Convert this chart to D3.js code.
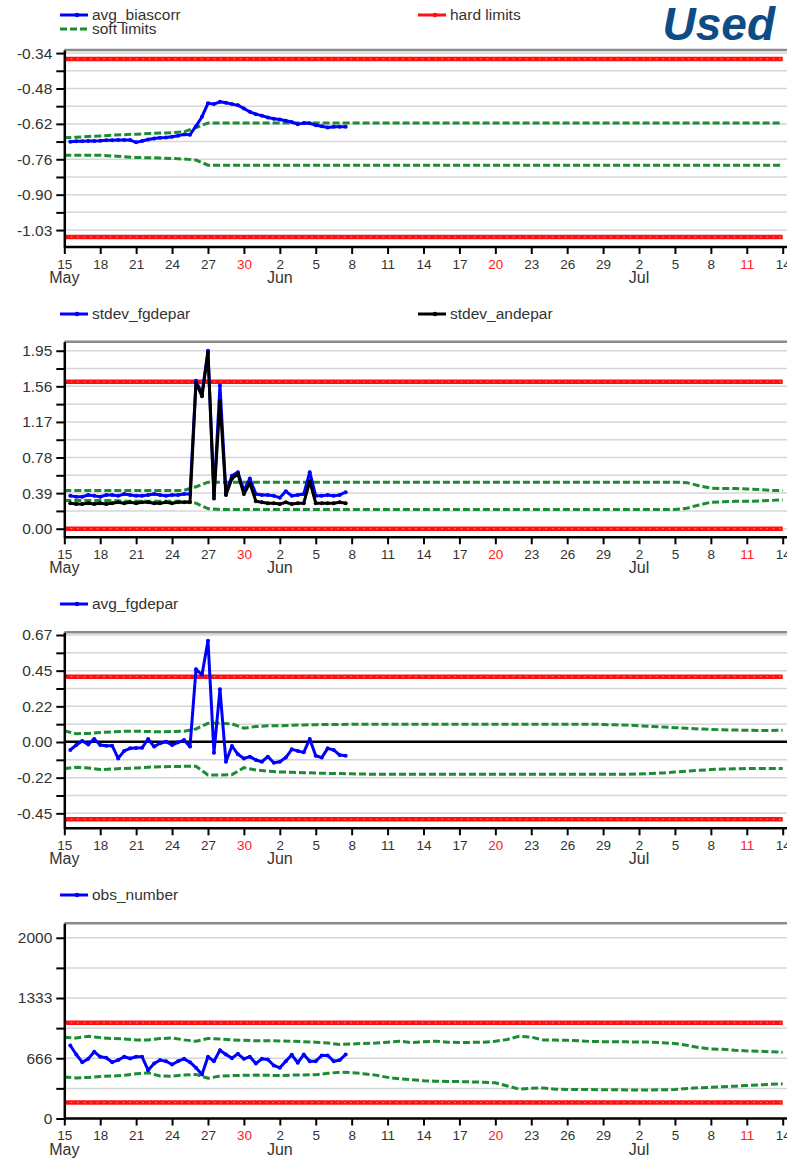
<!DOCTYPE html>
<html>
<head>
<meta charset="utf-8">
<script src="https://cdn.jsdelivr.net/npm/d3@7"></script>
<style>
    body { margin: 0; background: #fff; }
    svg { display: block; font-family: "Liberation Sans", Arial, sans-serif; }
</style>
</head>
<body>
<svg id="chart" width="787" height="1159"></svg>
<script>
// --- data -----------------------------------------------------------------

// monitored series: one value every 12 h, first one at 15 May 12 UTC
const seriesStart = new Date(Date.UTC(2021, 4, 15, 12))
// limits: one value a day, 15 May .. 14 Jul
const limitStart = new Date(Date.UTC(2021, 4, 15))
const limitEnd = new Date(Date.UTC(2021, 6, 14))

const avgBiascorr = [
    -0.686, -0.684, -0.684, -0.683, -0.683, -0.682, -0.680, -0.680, -0.679, -0.679,
    -0.679, -0.688, -0.683, -0.677, -0.673, -0.670, -0.669, -0.666, -0.662, -0.657,
    -0.658, -0.625, -0.588, -0.536, -0.539, -0.530, -0.534, -0.539, -0.543, -0.556,
    -0.569, -0.578, -0.584, -0.591, -0.596, -0.599, -0.604, -0.609, -0.617, -0.613,
    -0.614, -0.621, -0.625, -0.630, -0.627, -0.627, -0.627
]
const biasSoftUpper = [
    -0.670, -0.668, -0.665, -0.663, -0.660, -0.658, -0.656, -0.654, -0.652, -0.650,
    -0.647, -0.630, -0.613, -0.613, -0.613, -0.613, -0.613, -0.613, -0.613, -0.613,
    -0.613, -0.613, -0.613, -0.613, -0.613, -0.613, -0.613, -0.613, -0.613, -0.613,
    -0.613, -0.613, -0.613, -0.613, -0.613, -0.613, -0.613, -0.613, -0.613, -0.613,
    -0.613, -0.613, -0.613, -0.613, -0.613, -0.613, -0.613, -0.613, -0.613, -0.613,
    -0.613, -0.613, -0.613, -0.613, -0.613, -0.613, -0.613, -0.613, -0.613, -0.613,
    -0.613
]
const biasSoftLower = [
    -0.738, -0.738, -0.738, -0.738, -0.741, -0.744, -0.747, -0.748, -0.749, -0.751,
    -0.753, -0.757, -0.777, -0.777, -0.777, -0.777, -0.777, -0.777, -0.777, -0.777,
    -0.777, -0.777, -0.777, -0.777, -0.777, -0.777, -0.777, -0.777, -0.777, -0.777,
    -0.777, -0.777, -0.777, -0.777, -0.777, -0.777, -0.777, -0.777, -0.777, -0.777,
    -0.777, -0.777, -0.777, -0.777, -0.777, -0.777, -0.777, -0.777, -0.777, -0.777,
    -0.777, -0.777, -0.777, -0.777, -0.777, -0.777, -0.777, -0.777, -0.777, -0.777,
    -0.777
]
const biasHardLimits = [-0.363, -1.057]
const biasTickLabels = ['-1.03', '-0.90', '-0.76', '-0.62', '-0.48', '-0.34']

const stdevFgdepar = [
    0.36, 0.35, 0.35, 0.37, 0.36, 0.35, 0.37, 0.37, 0.36, 0.38,
    0.37, 0.36, 0.36, 0.37, 0.38, 0.37, 0.36, 0.37, 0.37, 0.38,
    0.38, 1.62, 1.48, 1.95, 0.36, 1.57, 0.39, 0.58, 0.62, 0.42,
    0.55, 0.38, 0.37, 0.37, 0.36, 0.34, 0.41, 0.36, 0.37, 0.38,
    0.62, 0.36, 0.36, 0.37, 0.36, 0.37, 0.40
]
const stdevAndepar = [
    0.28, 0.27, 0.27, 0.28, 0.27, 0.28, 0.27, 0.28, 0.29, 0.28,
    0.29, 0.28, 0.29, 0.29, 0.28, 0.28, 0.29, 0.28, 0.29, 0.29,
    0.29, 1.60, 1.45, 1.93, 0.33, 1.40, 0.37, 0.55, 0.60, 0.38,
    0.50, 0.30, 0.29, 0.28, 0.28, 0.27, 0.29, 0.27, 0.28, 0.28,
    0.52, 0.28, 0.28, 0.28, 0.28, 0.29, 0.28
]
const stdevSoftUpper = [
    0.42, 0.42, 0.42, 0.42, 0.42, 0.42, 0.42, 0.42, 0.42, 0.42,
    0.42, 0.46, 0.51, 0.51, 0.51, 0.51, 0.51, 0.51, 0.51, 0.51,
    0.51, 0.51, 0.51, 0.51, 0.51, 0.51, 0.51, 0.51, 0.51, 0.51,
    0.51, 0.51, 0.51, 0.51, 0.51, 0.51, 0.51, 0.51, 0.51, 0.51,
    0.51, 0.51, 0.51, 0.51, 0.51, 0.51, 0.51, 0.51, 0.51, 0.51,
    0.51, 0.51, 0.505, 0.47, 0.445, 0.44, 0.44, 0.435, 0.43, 0.42,
    0.42
]
const stdevSoftLower = [
    0.31, 0.31, 0.31, 0.31, 0.31, 0.30, 0.30, 0.30, 0.30, 0.30,
    0.30, 0.28, 0.22, 0.21, 0.21, 0.21, 0.21, 0.21, 0.21, 0.21,
    0.21, 0.21, 0.21, 0.21, 0.21, 0.21, 0.21, 0.21, 0.21, 0.21,
    0.21, 0.21, 0.21, 0.21, 0.21, 0.21, 0.21, 0.21, 0.21, 0.21,
    0.21, 0.21, 0.21, 0.21, 0.21, 0.21, 0.21, 0.21, 0.21, 0.21,
    0.21, 0.21, 0.225, 0.26, 0.29, 0.295, 0.30, 0.30, 0.305, 0.31,
    0.315
]
const stdevHardLimits = [1.61, 0.0]
const stdevTickLabels = ['0.00', '0.39', '0.78', '1.17', '1.56', '1.95']

const avgFgdepar = [
    -0.052, -0.021, 0.004, -0.017, 0.017, -0.021, -0.025, -0.025, -0.105, -0.058,
    -0.042, -0.040, -0.038, 0.017, -0.031, -0.010, 0.000, -0.021, -0.004, 0.010,
    -0.031, 0.455, 0.420, 0.634, -0.069, 0.329, -0.126, -0.027, -0.079, -0.105,
    -0.094, -0.115, -0.126, -0.094, -0.132, -0.126, -0.100, -0.048, -0.058, -0.067,
    0.017, -0.088, -0.100, -0.042, -0.052, -0.084, -0.088
]
const fgSoftUpper = [
    0.068, 0.050, 0.052, 0.058, 0.062, 0.065, 0.066, 0.064, 0.062, 0.064,
    0.066, 0.080, 0.115, 0.115, 0.112, 0.085, 0.095, 0.100, 0.100, 0.103,
    0.105, 0.107, 0.108, 0.108, 0.110, 0.110, 0.110, 0.110, 0.110, 0.110,
    0.110, 0.110, 0.110, 0.110, 0.110, 0.110, 0.110, 0.110, 0.110, 0.110,
    0.110, 0.110, 0.110, 0.110, 0.110, 0.108, 0.106, 0.104, 0.100, 0.096,
    0.092, 0.088, 0.084, 0.080, 0.077, 0.075, 0.073, 0.072, 0.070, 0.070,
    0.072
]
const fgSoftLower = [
    -0.170, -0.160, -0.165, -0.175, -0.172, -0.168, -0.165, -0.160, -0.158, -0.156,
    -0.155, -0.155, -0.209, -0.209, -0.207, -0.163, -0.178, -0.186, -0.190, -0.192,
    -0.195, -0.197, -0.199, -0.200, -0.202, -0.203, -0.205, -0.205, -0.205, -0.205,
    -0.205, -0.205, -0.205, -0.205, -0.205, -0.205, -0.205, -0.205, -0.205, -0.205,
    -0.205, -0.205, -0.205, -0.205, -0.205, -0.205, -0.205, -0.205, -0.203, -0.200,
    -0.196, -0.190, -0.185, -0.180, -0.175, -0.172, -0.170, -0.169, -0.168, -0.168,
    -0.168
]
const fgHardLimits = [0.408, -0.487]
const fgTickLabels = ['-0.45', '-0.22', '0.00', '0.22', '0.45', '0.67']

const obsNumber = [
    808, 708, 623, 660, 738, 683, 672, 623, 646, 683,
    664, 683, 683, 535, 609, 646, 634, 598, 634, 660,
    623, 561, 487, 683, 634, 756, 708, 668, 716, 660,
    683, 609, 660, 653, 587, 561, 634, 705, 617, 708,
    634, 634, 697, 697, 634, 646, 708
]
const obsSoftUpper = [
    900, 890, 910, 895, 885, 880, 870, 870, 885, 890,
    870, 855, 885, 880, 870, 865, 860, 860, 858, 855,
    850, 845, 835, 820, 825, 830, 835, 845, 856, 840,
    850, 855, 845, 840, 842, 845, 855, 875, 910, 900,
    870, 868, 865, 860, 852, 850, 848, 848, 847, 845,
    838, 830, 810, 785, 770, 765, 755, 748, 745, 738,
    734
]
const obsSoftLower = [
    460, 448, 455, 465, 470, 478, 495, 505, 470, 468,
    482, 488, 445, 470, 475, 478, 480, 478, 476, 480,
    482, 485, 500, 512, 508, 495, 480, 455, 440, 430,
    418, 413, 410, 408, 405, 402, 395, 360, 325, 335,
    338, 325, 322, 320, 320, 318, 318, 316, 314, 315,
    318, 320, 332, 340, 345, 352, 358, 365, 372, 378,
    384
]
const obsHardLimits = [1059, 177]
const obsTickLabels = ['0', '666', '1333', '2000']

// --- layout ---------------------------------------------------------------

const BLUE = '#0000ff'
const GREEN = '#1d8c34'
const RED = '#ff1010'
const TEXT = '#333'
const PLOT_LEFT = 64.3
const PLOT_RIGHT = 782.7
const EDGE = 787

const svg = d3.select('#chart')

const x = d3.scaleUtc().domain([limitStart, limitEnd]).range([PLOT_LEFT, PLOT_RIGHT])
const xTicks = d3.utcDay.range(limitStart, d3.utcDay.offset(limitEnd, 1), 3)

const seriesPoints = values => values.map((v, i) => ({ date: d3.utcHour.offset(seriesStart, 12 * i), value: v }))
const limitPoints = values => values.map((v, i) => ({ date: d3.utcDay.offset(limitStart, i), value: v }))

const panels = [
    {
        top: 50, bottom: 247, domain: [-1.096, -0.328], tickLabels: biasTickLabels,
        series: [{ values: avgBiascorr, color: BLUE }],
        upper: biasSoftUpper, lower: biasSoftLower, hard: biasHardLimits, zeroLine: false
    },
    {
        top: 341.7, bottom: 537.3, domain: [-0.094, 2.049], tickLabels: stdevTickLabels,
        series: [{ values: stdevFgdepar, color: BLUE }, { values: stdevAndepar, color: '#000' }],
        upper: stdevSoftUpper, lower: stdevSoftLower, hard: stdevHardLimits, zeroLine: false
    },
    {
        top: 632.3, bottom: 828.3, domain: [-0.544, 0.687], tickLabels: fgTickLabels,
        series: [{ values: avgFgdepar, color: BLUE }],
        upper: fgSoftUpper, lower: fgSoftLower, hard: fgHardLimits, zeroLine: true
    },
    {
        top: 923.3, bottom: 1118.5, domain: [0, 2160], tickLabels: obsTickLabels,
        series: [{ values: obsNumber, color: BLUE }],
        upper: obsSoftUpper, lower: obsSoftLower, hard: obsHardLimits, zeroLine: false
    }
]

const drawPanel = p => {
    const g = svg.append('g')
    const y = d3.scaleLinear().domain(p.domain).range([p.bottom, p.top])

    const n = p.tickLabels.length
    const lo = +p.tickLabels[0]
    const hi = +p.tickLabels[n - 1]
    const step = (hi - lo) / (n - 1)
    const major = d3.range(n).map(i => lo + i * step)
    const minor = d3.range(n - 1).map(i => lo + (i + 0.5) * step)

    // grid
    g.selectAll('.grid')
        .data(major.concat(minor))
        .join('line')
        .attr('class', 'grid')
        .attr('x1', PLOT_LEFT)
        .attr('x2', EDGE)
        .attr('y1', d => y(d))
        .attr('y2', d => y(d))
        .attr('stroke', '#d6d6d6')
        .attr('stroke-width', 1.5)

    // top frame
    g.append('line')
        .attr('x1', PLOT_LEFT).attr('x2', EDGE)
        .attr('y1', p.top).attr('y2', p.top)
        .attr('stroke', '#8a8a8a')
        .attr('stroke-width', 2.5)

    if (p.zeroLine) {
        g.append('line')
            .attr('x1', PLOT_LEFT).attr('x2', EDGE)
            .attr('y1', y(0)).attr('y2', y(0))
            .attr('stroke', '#000')
            .attr('stroke-width', 2.5)
    }

    const line = d3.line().x(d => x(d.date)).y(d => y(d.value))

    // hard limits
    p.hard.forEach(v => {
        const pts = limitPoints([v, v]).map((d, i) => ({ date: i ? limitEnd : limitStart, value: d.value }))
        g.append('path')
            .attr('d', line(pts))
            .attr('fill', 'none')
            .attr('stroke', RED)
            .attr('stroke-width', 4.5)
        g.append('path')
            .attr('d', line(pts))
            .attr('fill', 'none')
            .attr('stroke', '#ff8c8c')
            .attr('stroke-width', 1)
            .attr('stroke-dasharray', '1.5,5')
    })

    // soft limits
    ;[p.upper, p.lower].forEach(vals => {
        g.append('path')
            .attr('d', line(limitPoints(vals)))
            .attr('fill', 'none')
            .attr('stroke', GREEN)
            .attr('stroke-width', 3)
            .attr('stroke-dasharray', '7,3')
    })

    // monitored series
    p.series.forEach(s => {
        const pts = seriesPoints(s.values)
        g.append('path')
            .attr('d', line(pts))
            .attr('fill', 'none')
            .attr('stroke', s.color)
            .attr('stroke-width', 3)
            .attr('stroke-linejoin', 'round')
        g.selectAll(null)
            .data(pts)
            .join('circle')
            .attr('cx', d => x(d.date))
            .attr('cy', d => y(d.value))
            .attr('r', 2)
            .attr('fill', s.color)
    })

    // y axis
    const yAxis = g.append('g')
        .attr('transform', `translate(${PLOT_LEFT},0)`)
        .call(d3.axisLeft(y)
            .tickValues(major.concat(minor))
            .tickSize(8)
            .tickSizeOuter(0)
            .tickPadding(4)
            .tickFormat((d, i) => i < n ? p.tickLabels[i] : ''))
    yAxis.select('.domain').attr('stroke', '#000').attr('stroke-width', 2.5)
    yAxis.selectAll('.tick line').attr('stroke', '#000').attr('stroke-width', 2)
    yAxis.selectAll('.tick text')
        .attr('fill', TEXT)
        .style('font-size', '15.5px')
        .style('font-family', '"Liberation Sans", Arial, sans-serif')

    // x axis
    g.append('line')
        .attr('x1', PLOT_LEFT).attr('x2', EDGE)
        .attr('y1', p.bottom).attr('y2', p.bottom)
        .attr('stroke', '#000')
        .attr('stroke-width', 2.5)
    const xAxis = g.append('g')
        .attr('transform', `translate(0,${p.bottom})`)
        .call(d3.axisBottom(x)
            .tickValues(xTicks)
            .tickSize(7)
            .tickSizeOuter(0)
            .tickPadding(5)
            .tickFormat(d => d.getUTCDate()))
    xAxis.select('.domain').remove()
    xAxis.selectAll('.tick line').attr('stroke', '#000').attr('stroke-width', 2)
    xAxis.selectAll('.tick text')
        .attr('fill', d => d.getUTCDay() === 0 ? '#ff2020' : TEXT)
        .style('font-size', '13.5px')
        .style('font-family', '"Liberation Sans", Arial, sans-serif')

    // month names under the first tick of each month
    g.selectAll('.month')
        .data(xTicks.filter((d, i) => i === 0 || d.getUTCDate() <= 3))
        .join('text')
        .attr('class', 'month')
        .attr('x', d => x(d))
        .attr('y', p.bottom + 36)
        .attr('text-anchor', 'middle')
        .attr('fill', TEXT)
        .style('font-size', '16px')
        .text(d => d3.utcFormat('%b')(d))
}

panels.forEach(drawPanel)

// --- legends --------------------------------------------------------------

const legendItem = (x0, y0, color, text, dashed) => {
    const g = svg.append('g').attr('transform', `translate(${x0},${y0})`)
    g.append('line')
        .attr('x1', 0).attr('x2', 28)
        .attr('stroke', color)
        .attr('stroke-width', 3)
        .attr('stroke-dasharray', dashed ? '7,3' : null)
    if (!dashed) {
        g.append('circle').attr('cx', 17).attr('r', 2.3).attr('fill', color)
    }
    g.append('text')
        .attr('x', 32)
        .attr('y', 5)
        .attr('fill', TEXT)
        .style('font-size', '15.5px')
        .text(text)
}

legendItem(60, 15, BLUE, 'avg_biascorr')
legendItem(60, 29, GREEN, 'soft limits', true)
legendItem(418, 15, RED, 'hard limits')
legendItem(60, 314, BLUE, 'stdev_fgdepar')
legendItem(418, 314, '#000', 'stdev_andepar')
legendItem(60, 604, BLUE, 'avg_fgdepar')
legendItem(60, 895, BLUE, 'obs_number')

svg.append('text')
    .attr('x', 775)
    .attr('y', 40)
    .attr('text-anchor', 'end')
    .attr('fill', '#0d4c85')
    .style('font-size', '46px')
    .style('font-weight', 'bold')
    .style('font-style', 'italic')
    .text('Used')
</script>
</body>
</html>
